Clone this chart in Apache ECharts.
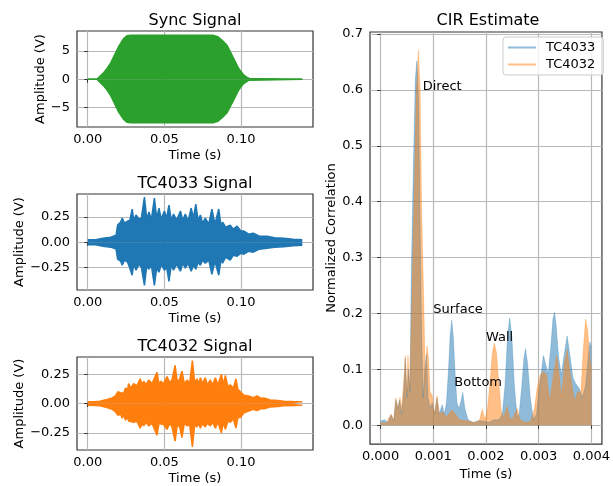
<!DOCTYPE html>
<html><head><meta charset="utf-8">
<script src="https://cdn.jsdelivr.net/npm/echarts@6/dist/echarts.min.js"></script>
<style>html,body{margin:0;padding:0;background:#fff}#c{width:613px;height:486px}</style>
</head><body><div id="c"></div>
<script>
// ---------- data (envelopes) ----------
const syncTime  = [0, 0.006, 0.0065, 0.0083, 0.0105, 0.0126, 0.015, 0.017, 0.0202, 0.0235, 0.0257, 0.028, 0.082, 0.085, 0.088, 0.0909, 0.0952, 0.0985, 0.1017, 0.104, 0.1055, 0.106, 0.140];
const syncUpper = [0, 0, 0.25, 0.6, 1.2, 1.9, 2.9, 4.0, 5.8, 7.2, 7.7, 7.76, 7.76, 7.5, 6.8, 6.0, 3.7, 1.9, 0.76, 0.35, 0.15, 0, 0];
const syncLower = [0, 0, -0.25, -0.6, -1.2, -1.9, -2.9, -4.0, -5.8, -7.1, -7.6, -7.66, -7.66, -7.4, -6.7, -5.9, -3.7, -1.9, -0.76, -0.35, -0.15, 0, 0];

const tc4033Time  = [0, 0.005, 0.010, 0.015, 0.0185, 0.0195, 0.0215, 0.0225, 0.024, 0.026, 0.0275, 0.029, 0.030, 0.0315, 0.0335, 0.035, 0.037, 0.0385, 0.040, 0.0415, 0.0435, 0.045, 0.0465, 0.048, 0.050, 0.0515, 0.053, 0.0545, 0.056, 0.058, 0.0605, 0.062, 0.0637, 0.0655, 0.0675, 0.069, 0.0705, 0.072, 0.0735, 0.075, 0.0767, 0.079, 0.081, 0.083, 0.0855, 0.087, 0.088, 0.090, 0.093, 0.095, 0.0975, 0.100, 0.102, 0.105, 0.108, 0.112, 0.117, 0.122, 0.128, 0.134, 0.140];
const tc4033Upper = [0.025, 0.025, 0.04, 0.05, 0.07, 0.17, 0.20, 0.24, 0.19, 0.21, 0.22, 0.33, 0.22, 0.27, 0.23, 0.24, 0.45, 0.23, 0.30, 0.22, 0.44, 0.24, 0.34, 0.23, 0.31, 0.24, 0.37, 0.22, 0.28, 0.22, 0.31, 0.22, 0.28, 0.21, 0.34, 0.24, 0.38, 0.22, 0.27, 0.19, 0.24, 0.18, 0.33, 0.18, 0.33, 0.16, 0.20, 0.15, 0.17, 0.13, 0.16, 0.11, 0.11, 0.08, 0.09, 0.06, 0.06, 0.045, 0.04, 0.03, 0.025];
const tc4033Lower = [-0.025, -0.025, -0.04, -0.05, -0.07, -0.17, -0.19, -0.23, -0.18, -0.20, -0.26, -0.33, -0.22, -0.28, -0.22, -0.25, -0.43, -0.24, -0.27, -0.23, -0.43, -0.26, -0.30, -0.22, -0.28, -0.25, -0.39, -0.23, -0.28, -0.22, -0.29, -0.21, -0.26, -0.21, -0.29, -0.23, -0.27, -0.20, -0.23, -0.18, -0.21, -0.18, -0.32, -0.19, -0.33, -0.17, -0.21, -0.15, -0.18, -0.13, -0.14, -0.11, -0.12, -0.09, -0.10, -0.07, -0.06, -0.05, -0.045, -0.035, -0.03];

const tc4032Time  = [0, 0.005, 0.008, 0.0125, 0.016, 0.018, 0.0198, 0.0215, 0.0224, 0.0235, 0.0246, 0.026, 0.0267, 0.028, 0.030, 0.032, 0.0343, 0.0355, 0.0365, 0.038, 0.0398, 0.042, 0.0452, 0.0465, 0.0478, 0.0495, 0.0517, 0.0535, 0.055, 0.057, 0.0585, 0.060, 0.0615, 0.063, 0.065, 0.0665, 0.0683, 0.0698, 0.0713, 0.0725, 0.0735, 0.075, 0.0767, 0.078, 0.080, 0.0815, 0.0833, 0.085, 0.0872, 0.0885, 0.0898, 0.0915, 0.093, 0.095, 0.0967, 0.098, 0.0996, 0.102, 0.105, 0.108, 0.1104, 0.113, 0.115, 0.119, 0.124, 0.128, 0.134, 0.140];
const tc4032Upper = [0.015, 0.018, 0.02, 0.035, 0.047, 0.064, 0.10, 0.09, 0.105, 0.09, 0.13, 0.12, 0.17, 0.13, 0.17, 0.15, 0.21, 0.16, 0.19, 0.16, 0.20, 0.17, 0.265, 0.17, 0.19, 0.17, 0.23, 0.18, 0.20, 0.325, 0.18, 0.21, 0.275, 0.17, 0.20, 0.17, 0.365, 0.18, 0.21, 0.17, 0.22, 0.17, 0.22, 0.16, 0.20, 0.16, 0.22, 0.16, 0.25, 0.16, 0.24, 0.14, 0.16, 0.13, 0.21, 0.12, 0.10, 0.07, 0.064, 0.05, 0.064, 0.045, 0.047, 0.03, 0.025, 0.02, 0.016, 0.014];
const tc4032Lower = [-0.015, -0.018, -0.02, -0.035, -0.05, -0.07, -0.10, -0.09, -0.125, -0.10, -0.14, -0.12, -0.15, -0.14, -0.16, -0.15, -0.21, -0.17, -0.19, -0.16, -0.19, -0.17, -0.27, -0.17, -0.18, -0.18, -0.22, -0.17, -0.20, -0.32, -0.18, -0.20, -0.29, -0.17, -0.19, -0.18, -0.37, -0.18, -0.20, -0.17, -0.21, -0.17, -0.20, -0.17, -0.19, -0.16, -0.21, -0.16, -0.25, -0.16, -0.22, -0.15, -0.16, -0.13, -0.21, -0.12, -0.12, -0.08, -0.065, -0.05, -0.06, -0.045, -0.045, -0.03, -0.025, -0.02, -0.016, -0.014];

const cir4033Time  = [0, 0.00008, 0.00014, 0.0002, 0.00025, 0.00029, 0.00033, 0.00036, 0.0004, 0.00044, 0.00047, 0.0005, 0.00053, 0.00056, 0.00058, 0.00062, 0.00066, 0.00069, 0.00072, 0.00075, 0.00078, 0.00081, 0.00084, 0.00087, 0.0009, 0.00094, 0.00098, 0.00103, 0.00107, 0.00111, 0.00117, 0.00121, 0.00125, 0.00129, 0.00132, 0.00135, 0.00138, 0.00141, 0.00145, 0.00149, 0.00153, 0.00156, 0.0016, 0.00166, 0.00175, 0.00185, 0.00194, 0.00205, 0.00215, 0.00225, 0.00231, 0.00236, 0.00241, 0.00245, 0.00249, 0.00254, 0.00259, 0.00263, 0.00268, 0.00272, 0.00275, 0.00279, 0.00284, 0.0029, 0.00296, 0.00303, 0.00309, 0.00313, 0.00318, 0.00323, 0.00327, 0.0033, 0.00333, 0.00338, 0.00343, 0.00349, 0.00354, 0.0036, 0.00365, 0.0037, 0.00377, 0.00383, 0.00389, 0.00393, 0.00397, 0.004];
const cir4033Value = [0.008, 0.010, 0.004, 0.019, 0.008, 0.046, 0.03, 0.045, 0.02, 0.06, 0.12, 0.05, 0.10, 0.06, 0.25, 0.45, 0.62, 0.652, 0.58, 0.35, 0.15, 0.05, 0.10, 0.127, 0.05, 0.03, 0.04, 0.02, 0.049, 0.02, 0.037, 0.02, 0.04, 0.10, 0.16, 0.188, 0.16, 0.10, 0.04, 0.03, 0.045, 0.059, 0.03, 0.01, 0.005, 0.008, 0.008, 0.005, 0.01, 0.01, 0.02, 0.07, 0.16, 0.192, 0.16, 0.07, 0.015, 0.02, 0.07, 0.12, 0.137, 0.11, 0.05, 0.01, 0.02, 0.08, 0.125, 0.11, 0.092, 0.14, 0.19, 0.202, 0.18, 0.12, 0.09, 0.13, 0.16, 0.12, 0.085, 0.075, 0.066, 0.05, 0.07, 0.11, 0.149, 0.14];

const cir4032Time  = [0, 0.0001, 0.0002, 0.00025, 0.00029, 0.00033, 0.00037, 0.0004, 0.00044, 0.00047, 0.0005, 0.00052, 0.00055, 0.00059, 0.00063, 0.00068, 0.00072, 0.00075, 0.00078, 0.00082, 0.00085, 0.00088, 0.00091, 0.00094, 0.00098, 0.00102, 0.00107, 0.00112, 0.00118, 0.00125, 0.00135, 0.00142, 0.0015, 0.00165, 0.0018, 0.00188, 0.00193, 0.00198, 0.00203, 0.00208, 0.00212, 0.00216, 0.0022, 0.00224, 0.00229, 0.00234, 0.0024, 0.00246, 0.00252, 0.00259, 0.00265, 0.00275, 0.00285, 0.00292, 0.00297, 0.00303, 0.00309, 0.00315, 0.00321, 0.00328, 0.00334, 0.00339, 0.00343, 0.00349, 0.00354, 0.0036, 0.00368, 0.00374, 0.0038, 0.00385, 0.00389, 0.00393, 0.00397, 0.004];
const cir4032Value = [0.005, 0.004, 0.02, 0.01, 0.049, 0.03, 0.05, 0.03, 0.08, 0.125, 0.06, 0.125, 0.07, 0.2, 0.38, 0.6, 0.671, 0.6, 0.38, 0.22, 0.08, 0.142, 0.12, 0.06, 0.054, 0.02, 0.053, 0.02, 0.025, 0.015, 0.028, 0.02, 0.01, 0.008, 0.005, 0.01, 0.029, 0.01, 0.03, 0.08, 0.13, 0.147, 0.13, 0.08, 0.025, 0.015, 0.034, 0.01, 0.015, 0.03, 0.01, 0.005, 0.008, 0.03, 0.066, 0.09, 0.097, 0.09, 0.043, 0.09, 0.125, 0.09, 0.049, 0.11, 0.135, 0.09, 0.043, 0.06, 0.06, 0.14, 0.19, 0.17, 0.12, 0.1];

const annoText  = ['Direct', 'Surface', 'Wall', 'Bottom'];
const annoTime  = [0.0008, 0.001, 0.002, 0.0014];
const annoValue = [0.6, 0.2, 0.15, 0.07];

const sigTimeTicks = [0, 0.05, 0.1];
const syncTicks = [-5, 0, 5];
const tcTicks = [-0.25, 0, 0.25];
const cirTimeTicks = [0, 0.001, 0.002, 0.003, 0.004];
const cirValueTicks = [0, 0.1, 0.2, 0.3, 0.4, 0.5, 0.6, 0.7];

// ---------- chart ----------
const FONT = "'DejaVu Sans', sans-serif";
const zip = (t, v) => t.map((x, i) => [x, v[i]]);
const minus = s => s.replace('-', '\u2212');

function xAx(i, min, max, ticks, dec) {
  return {
    type: 'value', gridIndex: i, min, max,
    name: 'Time (s)', nameLocation: 'middle', nameGap: 22,
    nameTextStyle: {fontSize: 13, fontFamily: FONT, color: '#000'},
    axisLine: {show: false},
    axisTick: {show: true, length: 3.5, customValues: ticks, lineStyle: {color: '#333', width: 1}},
    axisLabel: {customValues: ticks, formatter: v => minus(v.toFixed(dec)), margin: 6, fontSize: 13, fontFamily: FONT, color: '#000'},
    splitLine: {show: true, lineStyle: {color: '#b8b8b8', width: 1.2}}
  };
}
function yAx(i, min, max, ticks, dec, name, gap) {
  return {
    type: 'value', gridIndex: i, min, max,
    name, nameLocation: 'middle', nameGap: gap,
    nameTextStyle: {fontSize: 13, fontFamily: FONT, color: '#000'},
    axisLine: {show: false},
    axisTick: {show: true, length: 3.5, customValues: ticks, lineStyle: {color: '#333', width: 1}},
    axisLabel: {customValues: ticks, formatter: v => minus(v.toFixed(dec)), margin: 7, fontSize: 13, fontFamily: FONT, color: '#000'},
    splitLine: {show: true, lineStyle: {color: '#b8b8b8', width: 1.2}}
  };
}
function band(idx, t, v, color, lw) {
  return {
    type: 'line', xAxisIndex: idx, yAxisIndex: idx, data: zip(t, v),
    symbol: 'none', showSymbol: false, silent: true,
    lineStyle: {color, width: lw}, itemStyle: {color},
    areaStyle: {color, opacity: 1, origin: 0}
  };
}
function cir(name, t, v, color) {
  return {
    type: 'line', name, xAxisIndex: 3, yAxisIndex: 3, data: zip(t, v),
    symbol: 'none', showSymbol: false, silent: true,
    lineStyle: {color, width: 0.8, opacity: 0.35}, itemStyle: {color},
    areaStyle: {color, opacity: 0.5, origin: 0}
  };
}

const gridStyle = {show: true, borderColor: '#333', borderWidth: 1.2, backgroundColor: 'transparent', containLabel: false};
const titleStyle = {fontSize: 16, fontWeight: 'normal', fontFamily: FONT, color: '#000'};

const option = {
  animation: false,
  title: [
    {text: 'Sync Signal', left: 195, top: 13, textAlign: 'center', padding: 0, textStyle: titleStyle},
    {text: 'TC4033 Signal', left: 195, top: 176, textAlign: 'center', padding: 0, textStyle: titleStyle},
    {text: 'TC4032 Signal', left: 195, top: 339, textAlign: 'center', padding: 0, textStyle: titleStyle},
    {text: 'CIR Estimate', left: 488, top: 13, textAlign: 'center', padding: 0, textStyle: titleStyle}
  ],
  grid: [
    Object.assign({left: 77, top: 31, width: 236, height: 96}, gridStyle),
    Object.assign({left: 77, top: 194, width: 236, height: 96}, gridStyle),
    Object.assign({left: 77, top: 357, width: 236, height: 96}, gridStyle),
    Object.assign({left: 370, top: 32, width: 237, height: 421}, gridStyle)
  ],
  xAxis: [
    xAx(0, -0.007, 0.147, sigTimeTicks, 2),
    xAx(1, -0.007, 0.147, sigTimeTicks, 2),
    xAx(2, -0.007, 0.147, sigTimeTicks, 2),
    xAx(3, -0.0002, 0.0042, cirTimeTicks, 3)
  ],
  yAxis: [
    yAx(0, -8.43, 8.53, syncTicks, 0, 'Amplitude (V)', 28),
    yAx(1, -0.477, 0.48, tcTicks, 2, 'Amplitude (V)', 42),
    yAx(2, -0.396, 0.396, tcTicks, 2, 'Amplitude (V)', 42),
    yAx(3, -0.0335, 0.7035, cirValueTicks, 1, 'Normalized Correlation', 30)
  ],
  legend: {
    orient: 'vertical', left: 503, top: 37, padding: [4, 8, 4, 5], itemGap: 4,
    itemWidth: 28, itemHeight: 2, icon: 'rect',
    textStyle: {fontSize: 13, fontFamily: FONT, color: '#000', padding: [0, 0, 0, 5]},
    borderColor: '#cccccc', borderWidth: 1, borderRadius: 3, backgroundColor: 'rgba(255,255,255,0.8)',
    data: [
      {name: 'TC4033', itemStyle: {color: 'rgba(31,119,180,0.5)'}},
      {name: 'TC4032', itemStyle: {color: 'rgba(255,127,14,0.5)'}}
    ]
  },
  series: [
    band(0, syncTime, syncUpper, '#2ca02c', 1.5),
    band(0, syncTime, syncLower, '#2ca02c', 1.5),
    band(1, tc4033Time, tc4033Upper, '#1f77b4', 1.5),
    band(1, tc4033Time, tc4033Lower, '#1f77b4', 1.5),
    band(2, tc4032Time, tc4032Upper, '#ff7f0e', 1.5),
    band(2, tc4032Time, tc4032Lower, '#ff7f0e', 1.5),
    cir('TC4033', cir4033Time, cir4033Value, '#1f77b4'),
    cir('TC4032', cir4032Time, cir4032Value, '#ff7f0e'),
    {
      type: 'scatter', xAxisIndex: 3, yAxisIndex: 3, symbolSize: 0, silent: true, z: 10,
      data: annoText.map((s, i) => ({name: s, value: [annoTime[i], annoValue[i]]})),
      label: {show: true, formatter: '{b}', position: [0, 0], align: 'left', verticalAlign: 'bottom', offset: [0, 3],
              fontSize: 13, fontFamily: FONT, color: '#000', opacity: 1}
    }
  ]
};
const chart = echarts.init(document.getElementById('c'), null, {renderer: 'canvas'});
chart.setOption(option);
</script></body></html>
